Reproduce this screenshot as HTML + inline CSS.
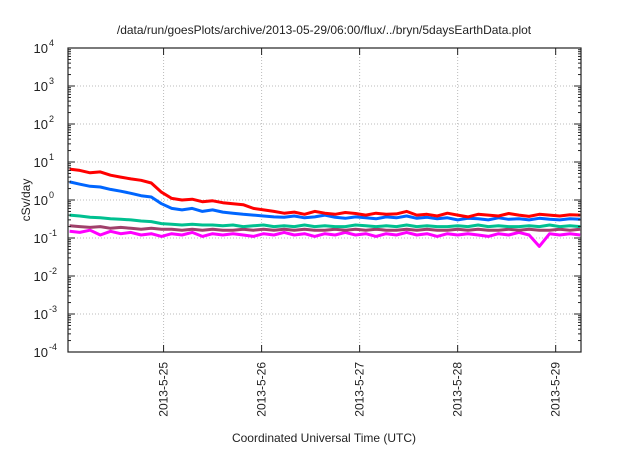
<!DOCTYPE html>
<html><head><meta charset="utf-8"><style>
body{margin:0;background:#fff;}
svg text{font-family:"Liberation Sans",sans-serif;fill:#222;}
</style></head><body>
<svg id="c" width="640" height="448" viewBox="0 0 640 448">
<text x="324" y="34" font-size="12" text-anchor="middle">/data/run/goesPlots/archive/2013-05-29/06:00/flux/../bryn/5daysEarthData.plot</text>
<text transform="translate(30,200) rotate(-90)" font-size="12" text-anchor="middle">cSv/day</text>
<text x="324" y="442" font-size="12" text-anchor="middle">Coordinated Universal Time (UTC)</text>
<g id="grid"></g><g id="series"></g><g id="axes"></g>
</svg>
<script>
const hours=[1,3.5,6,8.5,11,13.5,16,18.5,21,23.5,26,28.5,31,33.5,36,38.5,41,43.5,46,48.5,51,53.5,56,58.5,61,63.5,66,68.5,71,73.5,76,78.5,81,83.5,86,88.5,91,93.5,96,98.5,101,103.5,106,108.5,111,113.5,116,118.5,121,123.5,126];
const redVals=[6.5,6.0,5.2,5.5,4.5,4.0,3.6,3.3,2.8,1.6,1.1,1.0,1.05,0.9,0.95,0.85,0.8,0.75,0.6,0.55,0.5,0.45,0.48,0.42,0.5,0.45,0.42,0.47,0.44,0.4,0.45,0.42,0.43,0.5,0.4,0.42,0.38,0.45,0.4,0.36,0.42,0.4,0.38,0.44,0.4,0.37,0.42,0.4,0.38,0.41,0.4];
const blueVals=[3.0,2.6,2.3,2.2,1.9,1.7,1.5,1.3,1.2,0.8,0.6,0.55,0.6,0.5,0.55,0.48,0.45,0.42,0.4,0.38,0.36,0.35,0.38,0.34,0.36,0.4,0.35,0.33,0.36,0.34,0.32,0.36,0.34,0.38,0.33,0.35,0.32,0.34,0.3,0.33,0.32,0.3,0.34,0.31,0.32,0.3,0.33,0.31,0.3,0.32,0.31];
const tealVals=[0.4,0.38,0.35,0.34,0.32,0.31,0.3,0.28,0.27,0.24,0.23,0.22,0.23,0.22,0.22,0.21,0.22,0.2,0.21,0.22,0.2,0.21,0.2,0.22,0.2,0.21,0.2,0.2,0.22,0.21,0.2,0.21,0.2,0.22,0.2,0.21,0.2,0.2,0.21,0.2,0.22,0.2,0.21,0.2,0.2,0.21,0.2,0.22,0.2,0.21,0.2];
const brownVals=[0.21,0.2,0.19,0.2,0.18,0.19,0.18,0.17,0.18,0.17,0.17,0.16,0.17,0.16,0.17,0.16,0.16,0.17,0.16,0.17,0.16,0.17,0.16,0.17,0.16,0.16,0.17,0.16,0.17,0.16,0.17,0.16,0.16,0.17,0.16,0.17,0.16,0.16,0.17,0.16,0.17,0.16,0.16,0.17,0.16,0.17,0.16,0.16,0.17,0.16,0.17];
const magentaVals=[0.15,0.14,0.16,0.12,0.15,0.13,0.14,0.12,0.13,0.11,0.13,0.12,0.14,0.11,0.13,0.12,0.13,0.12,0.11,0.13,0.12,0.14,0.12,0.13,0.11,0.13,0.12,0.14,0.12,0.13,0.11,0.13,0.12,0.14,0.12,0.13,0.11,0.13,0.12,0.13,0.12,0.11,0.13,0.12,0.14,0.12,0.06,0.13,0.12,0.13,0.12];
const yExps=[-4,-3,-2,-1,0,1,2,3,4];
const xTickHours=[24,48,72,96,120];
const xTickLabels=["2013-5-25","2013-5-26","2013-5-27","2013-5-28","2013-5-29"];

const L=68,R=581,T=48,B=352;
const hMin=0.6,hMax=126.2;
const X=h=>L+(h-hMin)/(hMax-hMin)*(R-L);
const Y=v=>B-(Math.log10(v)+4)/8*(B-T);
const NS="http://www.w3.org/2000/svg";
function mk(tag,attrs,parent){const e=document.createElementNS(NS,tag);for(const k in attrs)e.setAttribute(k,attrs[k]);parent.appendChild(e);return e;}
const grid=document.getElementById('grid'),axes=document.getElementById('axes'),ser=document.getElementById('series');
yExps.forEach(p=>{
  const y=Y(Math.pow(10,p));
  if(p>-4&&p<4){const g=mk('line',{x1:L,x2:R,y1:y,y2:y,stroke:'#bbb','stroke-dasharray':'1,2'},grid);
  
  }
  mk('line',{x1:L,x2:L+7,y1:y,y2:y,stroke:'#222'},axes);
  mk('line',{x1:R-7,x2:R,y1:y,y2:y,stroke:'#222'},axes);
  if(p<4)for(let m=2;m<10;m++){const ym=Y(m*Math.pow(10,p));mk('line',{x1:L,x2:L+3,y1:ym,y2:ym,stroke:'#222'},axes);mk('line',{x1:R-3,x2:R,y1:ym,y2:ym,stroke:'#222'},axes);}
  const t=mk('text',{x:L-20,y:y+5,'font-size':'13','text-anchor':'end'},axes);
  
  
  t.textContent='10';
  const s=mk('text',{x:L-19,y:y-2,'font-size':'9','text-anchor':'start'},axes);s.textContent=String(p);
});
xTickHours.forEach((h,i)=>{
  const x=X(h);
  const g=mk('line',{x1:x,x2:x,y1:T,y2:B,stroke:'#bbb','stroke-dasharray':'1,2'},grid);
  
  
  mk('line',{x1:x,x2:x,y1:B-7,y2:B,stroke:'#222'},axes);
  mk('line',{x1:x,x2:x,y1:T,y2:T+7,stroke:'#222'},axes);
  const t=mk('text',{transform:`translate(${x+4},362) rotate(-90)`,'font-size':'12','text-anchor':'end'},axes);
  
  
  t.textContent=xTickLabels[i];
});
const fr=mk('rect',{x:L,y:T,width:R-L,height:B-T,fill:'none',stroke:'#222','stroke-width':'1.2'},axes);


const list=[[magentaVals,'#ff00ff','magenta'],[brownVals,'#a0406a','brown'],[tealVals,'#00c090','teal'],[blueVals,'#0066ff','blue'],[redVals,'#ff0000','red']];
list.forEach(([vals,col,nm])=>{
  const d=vals.map((v,i)=>(i?'L':'M')+X(hours[i]).toFixed(1)+','+Y(v).toFixed(1)).join('');
  const p=mk('path',{d:d,fill:'none',stroke:col,'stroke-width':'3','stroke-linejoin':'round'},ser);
  
  
});
</script>
</body></html>
